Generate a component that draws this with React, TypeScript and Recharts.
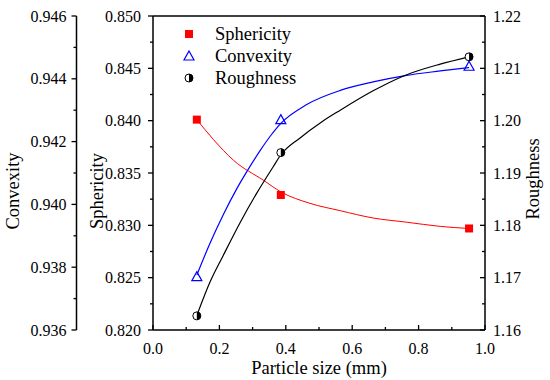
import { ComposedChart, Line, XAxis, YAxis, Legend, ReferenceLine } from 'recharts';

// measured points
const particleSize = [0.132, 0.385, 0.952];
const sphericity = [0.8401, 0.8329, 0.8297];
const convexity = [0.9377, 0.9427, 0.9444];
const roughness = [1.1627, 1.1939, 1.2122];

// fitted curves
const sphFitX = [0.132, 0.182, 0.243, 0.333, 0.385, 0.473, 0.564, 0.663, 0.764, 0.865, 0.952];
const sphFitY = [0.8401, 0.8382, 0.8362, 0.8343, 0.8332, 0.8321, 0.8314, 0.8307, 0.8303, 0.8299, 0.8297];

const convFitX = [0.132, 0.172, 0.212, 0.253, 0.283, 0.323, 0.353, 0.385, 0.463, 0.564, 0.663, 0.764, 0.865, 0.952];
const convFitY = [0.93775, 0.93877, 0.93968, 0.94051, 0.94105, 0.94172, 0.94217, 0.94258, 0.94318, 0.94363, 0.9439, 0.94411, 0.94425, 0.94436];

const roughFitX = [0.134, 0.172, 0.212, 0.263, 0.313, 0.363, 0.383, 0.443, 0.509, 0.564, 0.663, 0.753, 0.865, 0.952];
const roughFitY = [1.1631, 1.1692, 1.1743, 1.1806, 1.1862, 1.1913, 1.1933, 1.1967, 1.1998, 1.202, 1.2057, 1.2085, 1.2108, 1.2122];

// ticks (every other one is labelled)
const xTicks = [0, 0.1, 0.2, 0.3, 0.4, 0.5, 0.6, 0.7, 0.8, 0.9, 1.0];
const sphTicks = [0.82, 0.8225, 0.825, 0.8275, 0.83, 0.8325, 0.835, 0.8375, 0.84, 0.8425, 0.845, 0.8475, 0.85];
const convTicks = [0.936, 0.937, 0.938, 0.939, 0.94, 0.941, 0.942, 0.943, 0.944, 0.945, 0.946];
const roughTicks = [1.16, 1.165, 1.17, 1.175, 1.18, 1.185, 1.19, 1.195, 1.2, 1.205, 1.21, 1.215, 1.22];

const FONT = 'Liberation Serif, Times New Roman, DejaVu Serif, serif';
const RED = '#ff0000';
const BLUE = '#0000ff';

// axis ids: the first one sorts next to the plot
const SPH = 'a_sph';
const CONV = 'b_conv';
const ROUGH = 'c_rough';

const toPts = (xs: number[], ys: number[]) => xs.map((x, i) => ({ x, y: ys[i] }));

const isMajor = (ticks: number[], v: number) => {
  const i = ticks.findIndex(t => Math.abs(t - v) < 1e-9);
  return i % 2 === 0;
};

const leftTick = (ticks: number[], digits: number, gap: number) => (props: any) => {
  const { x, y, payload } = props;
  const major = isMajor(ticks, payload.value);
  return (
    <g>
      <line x1={x - (major ? 5 : 3)} x2={x} y1={y} y2={y} stroke="#000" strokeWidth={1.3} />
      {major && (
        <text x={x - gap} y={y} dy="0.35em" textAnchor="end" style={{ fontFamily: FONT, fontSize: 16 }} fill="#000">
          {payload.value.toFixed(digits)}
        </text>
      )}
    </g>
  );
};

const rightTick = (props: any) => {
  const { x, y, payload } = props;
  const major = isMajor(roughTicks, payload.value);
  return (
    <g>
      <line x1={x - (major ? 5 : 3)} x2={x} y1={y} y2={y} stroke="#000" strokeWidth={1.3} />
      {major && (
        <text x={x + 8} y={y} dy="0.35em" textAnchor="start" style={{ fontFamily: FONT, fontSize: 16 }} fill="#000">
          {payload.value.toFixed(2)}
        </text>
      )}
    </g>
  );
};

const bottomTick = (props: any) => {
  const { x, y, payload } = props;
  const major = isMajor(xTicks, payload.value);
  return (
    <g>
      <line x1={x} x2={x} y1={y - (major ? 5 : 3)} y2={y} stroke="#000" strokeWidth={1.3} />
      {major && (
        <text x={x} y={y + 18} dy="0.35em" textAnchor="middle" style={{ fontFamily: FONT, fontSize: 16 }} fill="#000">
          {payload.value.toFixed(1)}
        </text>
      )}
    </g>
  );
};

const Square = ({ cx, cy }: { cx: number; cy: number }) => (
  <rect x={cx - 4} y={cy - 4} width={8} height={8} fill={RED} />
);

const Triangle = ({ cx, cy }: { cx: number; cy: number }) => (
  <path d={`M${cx},${cy - 5} L${cx + 5},${cy + 4} L${cx - 5},${cy + 4} Z`} fill="none" stroke={BLUE} strokeWidth={1.2} />
);

const HalfCircle = ({ cx, cy }: { cx: number; cy: number }) => (
  <g>
    <circle cx={cx} cy={cy} r={4} fill="#fff" stroke="#000" strokeWidth={1} />
    <path d={`M${cx},${cy - 4} A4,4 0 0 1 ${cx},${cy + 4} Z`} fill="#000" />
  </g>
);

const vLabel = (text: string, dx: number, dy: number) => (props: any) => {
  const { viewBox } = props;
  const cx = viewBox.x + dx;
  const cy = viewBox.y + viewBox.height / 2 + dy;
  return (
    <text
      x={cx}
      y={cy}
      transform={`rotate(-90, ${cx}, ${cy})`}
      textAnchor="middle"
      dy="0.35em"
      style={{ fontFamily: FONT, fontSize: 18.5 }}
      fill="#000"
    >
      {text}
    </text>
  );
};

const legendRows = [
  { name: 'Sphericity', Icon: Square },
  { name: 'Convexity', Icon: Triangle },
  { name: 'Roughness', Icon: HalfCircle },
];

const renderLegend = () => (
  <div style={{ fontFamily: FONT, fontSize: 18.5, color: '#000' }}>
    {legendRows.map(({ name, Icon }) => (
      <div key={name} style={{ display: 'flex', alignItems: 'center', height: 22 }}>
        <svg width={18} height={22}>
          <Icon cx={9} cy={11} />
        </svg>
        <span style={{ marginLeft: 17, lineHeight: '22px' }}>{name}</span>
      </div>
    ))}
  </div>
);

export default function App() {
  const axisLine = { stroke: '#000', strokeWidth: 1.5 };
  return (
    <div style={{ position: 'absolute', left: 0, top: 0, width: 550, height: 380, background: '#fff', fontFamily: FONT }}>
      <ComposedChart width={550} height={380} margin={{ top: 16, right: 0, bottom: 0, left: 0 }}>
        <XAxis
          type="number"
          dataKey="x"
          domain={[0, 1]}
          ticks={xTicks}
          interval={0}
          tick={bottomTick}
          tickLine={false}
          tickSize={0}
          tickMargin={0}
          axisLine={axisLine}
          height={50}
          allowDataOverflow
          label={(props: any) => (
            <text
              x={props.viewBox.x + props.viewBox.width / 2}
              y={props.viewBox.y + 44}
              textAnchor="middle"
              style={{ fontFamily: FONT, fontSize: 18.5 }}
              fill="#000"
            >
              Particle size (mm)
            </text>
          )}
        />
        <YAxis
          yAxisId={SPH}
          orientation="left"
          type="number"
          dataKey="y"
          domain={[0.82, 0.85]}
          ticks={sphTicks}
          interval={0}
          tick={leftTick(sphTicks, 3, 12)}
          tickLine={false}
          tickSize={0}
          tickMargin={0}
          axisLine={axisLine}
          width={76.5}
          allowDataOverflow
          label={vLabel('Sphericity', 20, 18)}
        />
        <YAxis
          yAxisId={CONV}
          orientation="left"
          type="number"
          dataKey="y"
          domain={[0.936, 0.946]}
          ticks={convTicks}
          interval={0}
          tick={leftTick(convTicks, 3, 10)}
          tickLine={false}
          tickSize={0}
          tickMargin={0}
          axisLine={axisLine}
          width={76.5}
          allowDataOverflow
          label={vLabel('Convexity', 13, 18)}
        />
        <YAxis
          yAxisId={ROUGH}
          orientation="right"
          type="number"
          dataKey="y"
          domain={[1.16, 1.22]}
          ticks={roughTicks}
          interval={0}
          tick={rightTick}
          tickLine={false}
          tickSize={0}
          tickMargin={0}
          axisLine={axisLine}
          width={65}
          allowDataOverflow
          label={vLabel('Roughness', 48, 6)}
        />
        <ReferenceLine yAxisId={SPH} y={0.85} stroke="#000" strokeWidth={1.5} />

        <Line
          yAxisId={SPH}
          data={toPts(sphFitX, sphFitY)}
          dataKey="y"
          type="monotone"
          stroke={RED}
          strokeWidth={1}
          dot={false}
          isAnimationActive={false}
        />
        <Line
          yAxisId={CONV}
          data={toPts(convFitX, convFitY)}
          dataKey="y"
          type="monotone"
          stroke={BLUE}
          strokeWidth={1.2}
          dot={false}
          isAnimationActive={false}
        />
        <Line
          yAxisId={ROUGH}
          data={toPts(roughFitX, roughFitY)}
          dataKey="y"
          type="monotone"
          stroke="#000"
          strokeWidth={1.2}
          dot={false}
          isAnimationActive={false}
        />

        <Line
          yAxisId={SPH}
          data={toPts(particleSize, sphericity)}
          dataKey="y"
          stroke="none"
          dot={(p: any) => <Square key={`s${p.index}`} cx={p.cx} cy={p.cy} />}
          isAnimationActive={false}
        />
        <Line
          yAxisId={CONV}
          data={toPts(particleSize, convexity)}
          dataKey="y"
          stroke="none"
          dot={(p: any) => <Triangle key={`c${p.index}`} cx={p.cx} cy={p.cy} />}
          isAnimationActive={false}
        />
        <Line
          yAxisId={ROUGH}
          data={toPts(particleSize, roughness)}
          dataKey="y"
          stroke="none"
          dot={(p: any) => <HalfCircle key={`r${p.index}`} cx={p.cx} cy={p.cy} />}
          isAnimationActive={false}
        />

        <Legend
          layout="horizontal"
          verticalAlign="middle"
          align="center"
          content={renderLegend}
          wrapperStyle={{ left: 180, top: 23, width: 200 }}
        />
      </ComposedChart>
    </div>
  );
}
